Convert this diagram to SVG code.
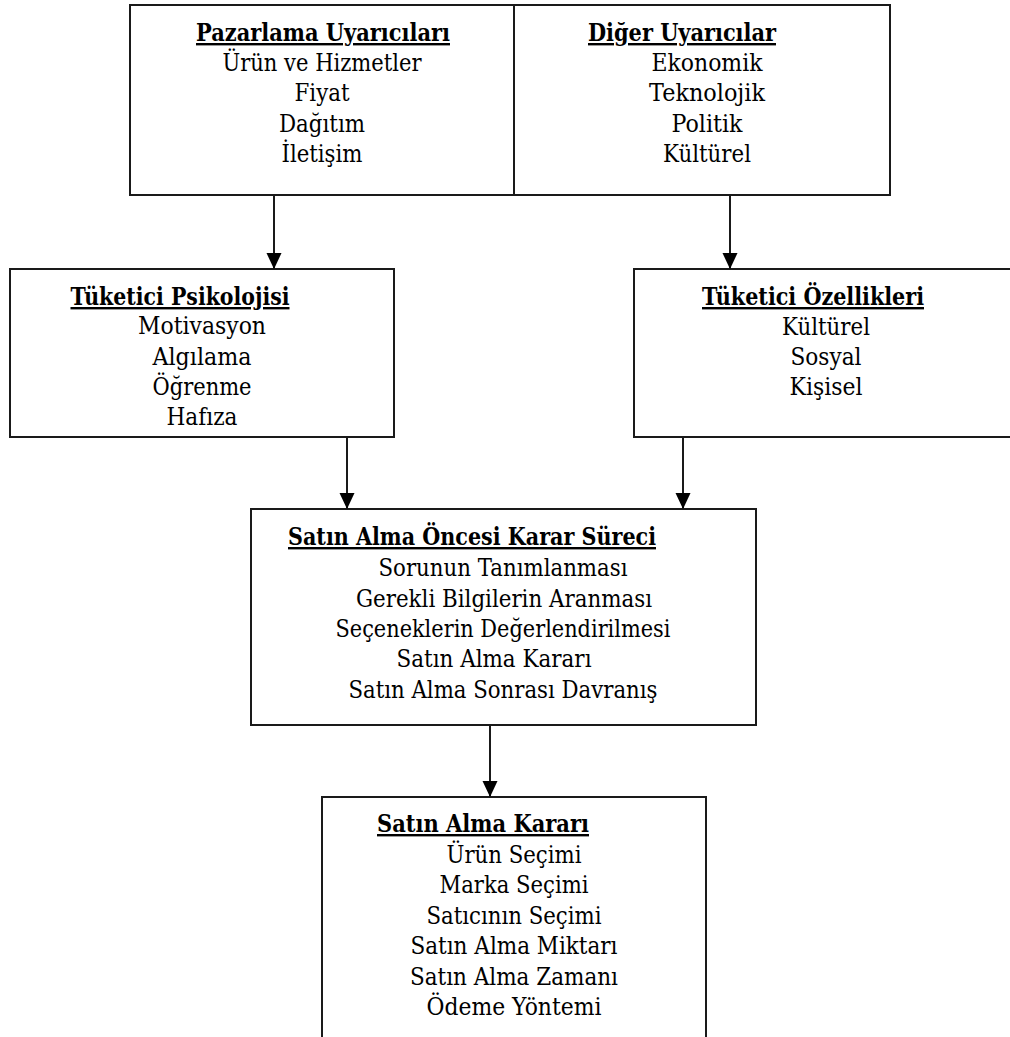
<svg xmlns="http://www.w3.org/2000/svg" width="1010" height="1037" viewBox="0 0 1010 1037">
  <style>
    .box { fill: #fff; stroke: #1a1a1a; stroke-width: 2; }
    .t { font-family: 'DejaVu Serif', 'Liberation Serif', serif; font-size: 24px; fill: #000; text-anchor: middle; }
    .h { font-weight: bold; text-decoration: underline; }
    .link { stroke: #1a1a1a; stroke-width: 2; fill: none; marker-end: url(#arrow); }
  </style>
  <defs>
    <marker id="arrow" markerUnits="userSpaceOnUse" markerWidth="16" markerHeight="16" viewBox="0 0 16 16" refX="16" refY="8" orient="auto">
      <path d="M0,0.5 L16,8 L0,15.5 Z" fill="#000"/>
    </marker>
  </defs>

  <rect width="1010" height="1037" fill="#fff"/>

  <!-- line widths are fixed with textLength so each line keeps its set width -->
  <g id="pazarlama-uyaricilari">
    <rect class="box" x="130" y="5" width="384" height="190"/>
    <text class="t h" x="323" y="41" textLength="254" lengthAdjust="spacingAndGlyphs">Pazarlama Uyarıcıları</text>
    <text class="t" x="322" y="71" textLength="199" lengthAdjust="spacingAndGlyphs">Ürün ve Hizmetler</text>
    <text class="t" x="322" y="101" textLength="55" lengthAdjust="spacingAndGlyphs">Fiyat</text>
    <text class="t" x="322" y="132" textLength="86" lengthAdjust="spacingAndGlyphs">Dağıtım</text>
    <text class="t" x="322" y="162" textLength="81" lengthAdjust="spacingAndGlyphs">İletişim</text>
  </g>

  <g id="diger-uyaricilar">
    <rect class="box" x="514" y="5" width="376" height="190"/>
    <text class="t h" x="682" y="41" textLength="188" lengthAdjust="spacingAndGlyphs">Diğer Uyarıcılar</text>
    <text class="t" x="707" y="71" textLength="111" lengthAdjust="spacingAndGlyphs">Ekonomik</text>
    <text class="t" x="707" y="101" textLength="116" lengthAdjust="spacingAndGlyphs">Teknolojik</text>
    <text class="t" x="707" y="132" textLength="71" lengthAdjust="spacingAndGlyphs">Politik</text>
    <text class="t" x="707" y="162" textLength="88" lengthAdjust="spacingAndGlyphs">Kültürel</text>
  </g>

  <g id="tuketici-psikolojisi">
    <rect class="box" x="10" y="269" width="384" height="168"/>
    <text class="t h" x="180" y="305" textLength="219" lengthAdjust="spacingAndGlyphs">Tüketici Psikolojisi</text>
    <text class="t" x="202" y="334" textLength="128" lengthAdjust="spacingAndGlyphs">Motivasyon</text>
    <text class="t" x="202" y="365" textLength="99" lengthAdjust="spacingAndGlyphs">Algılama</text>
    <text class="t" x="202" y="395" textLength="99" lengthAdjust="spacingAndGlyphs">Öğrenme</text>
    <text class="t" x="202" y="425" textLength="71" lengthAdjust="spacingAndGlyphs">Hafıza</text>
  </g>

  <g id="tuketici-ozellikleri">
    <rect class="box" x="634" y="269" width="400" height="168"/>
    <text class="t h" x="813" y="305" textLength="222" lengthAdjust="spacingAndGlyphs">Tüketici Özellikleri</text>
    <text class="t" x="826" y="335" textLength="88" lengthAdjust="spacingAndGlyphs">Kültürel</text>
    <text class="t" x="826" y="365" textLength="71" lengthAdjust="spacingAndGlyphs">Sosyal</text>
    <text class="t" x="826" y="395" textLength="73" lengthAdjust="spacingAndGlyphs">Kişisel</text>
  </g>

  <g id="satin-alma-oncesi-karar-sureci">
    <rect class="box" x="251" y="509" width="505" height="216"/>
    <text class="t h" x="472" y="545" textLength="368" lengthAdjust="spacingAndGlyphs">Satın Alma Öncesi Karar Süreci</text>
    <text class="t" x="503" y="576" textLength="249" lengthAdjust="spacingAndGlyphs">Sorunun Tanımlanması</text>
    <text class="t" x="504" y="607" textLength="296" lengthAdjust="spacingAndGlyphs">Gerekli Bilgilerin Aranması</text>
    <text class="t" x="503" y="637" textLength="335" lengthAdjust="spacingAndGlyphs">Seçeneklerin Değerlendirilmesi</text>
    <text class="t" x="494" y="667" textLength="195" lengthAdjust="spacingAndGlyphs">Satın Alma Kararı</text>
    <text class="t" x="503" y="698" textLength="309" lengthAdjust="spacingAndGlyphs">Satın Alma Sonrası Davranış</text>
  </g>

  <g id="satin-alma-karari">
    <rect class="box" x="322" y="797" width="384" height="260"/>
    <text class="t h" x="483" y="832" textLength="212" lengthAdjust="spacingAndGlyphs">Satın Alma Kararı</text>
    <text class="t" x="514" y="863" textLength="135" lengthAdjust="spacingAndGlyphs">Ürün Seçimi</text>
    <text class="t" x="514" y="893" textLength="149" lengthAdjust="spacingAndGlyphs">Marka Seçimi</text>
    <text class="t" x="514" y="924" textLength="175" lengthAdjust="spacingAndGlyphs">Satıcının Seçimi</text>
    <text class="t" x="514" y="954" textLength="207" lengthAdjust="spacingAndGlyphs">Satın Alma Miktarı</text>
    <text class="t" x="514" y="985" textLength="208" lengthAdjust="spacingAndGlyphs">Satın Alma Zamanı</text>
    <text class="t" x="514" y="1015" textLength="175" lengthAdjust="spacingAndGlyphs">Ödeme Yöntemi</text>
  </g>

  <g id="connectors">
    <line class="link" x1="274" y1="195" x2="274" y2="269"/>
    <line class="link" x1="730" y1="195" x2="730" y2="269"/>
    <line class="link" x1="347" y1="437" x2="347" y2="509"/>
    <line class="link" x1="683" y1="437" x2="683" y2="509"/>
    <line class="link" x1="490" y1="725" x2="490" y2="797"/>
  </g>
</svg>
